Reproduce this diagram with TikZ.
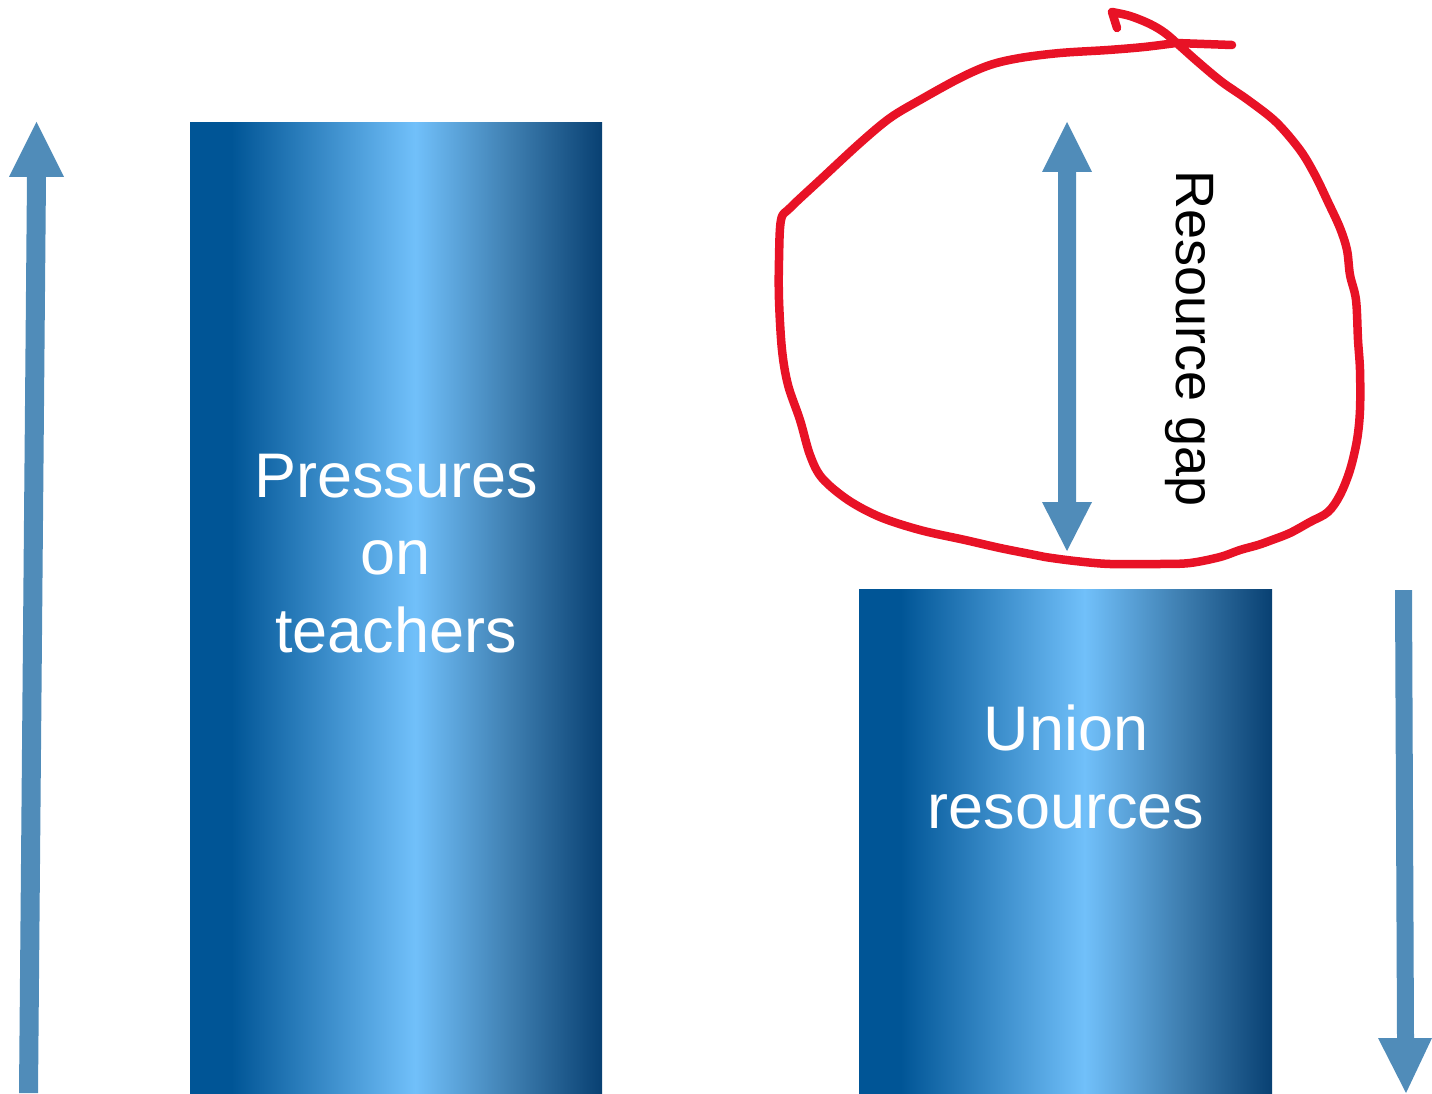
\documentclass[tikz,border=0pt]{standalone}
\usepackage{fontspec}
\setmainfont{Liberation Sans}
\definecolor{bc1}{RGB}{0,85,150}
\definecolor{bc2}{RGB}{113,192,250}
\definecolor{bc3}{RGB}{62,126,176}
\definecolor{bc4}{RGB}{8,64,114}
\definecolor{arrowblue}{RGB}{80,140,185}
\definecolor{markred}{RGB}{232,18,38}
\pgfdeclarehorizontalshading{barshade}{100bp}{color(0bp)=(bc1); color(25bp)=(bc1); color(30bp)=(bc1); color(52.3bp)=(bc2); color(64bp)=(bc3); color(75bp)=(bc4); color(100bp)=(bc4)}
\tikzset{
  barbox/.style={shading=barshade, draw=none, inner sep=0pt, anchor=north west},
  bartext/.style={text=white, align=center, inner sep=0pt, anchor=base, font=\fontsize{63}{77.5}\selectfont},
  blockarrow/.style={fill=arrowblue, draw=none},
  redmark/.style={draw=markred, line width=8.5pt, line cap=round, line join=round}
}
\begin{document}
\begin{tikzpicture}[x=1pt,y=-1pt]
\useasboundingbox (0,0) rectangle (1432,1094);
% bars
\node[barbox, minimum width=412pt, minimum height=972pt] (pbar) at (190,122) {};
\node[barbox, minimum width=413pt, minimum height=505pt] (ubar) at (859,589) {};
\node[bartext] (ptext) at (396,652) {Pressures\\on\\teachers};
\node[bartext] (utext) at (1066,828) {Union\\resources};
% left up arrow
\fill[blockarrow] (19,1093) -- (38,1093) -- (46,177) -- (64,177) -- (36.5,122) -- (9,177) -- (27,177) -- cycle;
% right down arrow
\fill[blockarrow] (1395,590) -- (1412,590) -- (1414,1038) -- (1432,1038) -- (1406,1093) -- (1378,1038) -- (1397,1038) -- cycle;
% double arrow
\fill[blockarrow] (1067,122) -- (1092,172) -- (1076,172) -- (1076,502) -- (1092,502) -- (1067,551) -- (1042,502) -- (1058,502) -- (1058,172) -- (1042,172) -- cycle;
% label
\node[rotate=-90, anchor=base west, inner sep=0pt, font=\fontsize{54}{60}\selectfont] (gap) at (1176,170) {Resource gap};
% red hand-drawn circle
\draw[redmark] (1117,28) -- (1112,12)
  plot[smooth, tension=0.55] coordinates {(1112,12) (1130,16) (1150,24) (1165,33) (1180,46) (1198,62) (1222,82) (1248,100) (1276,122) (1300,150) (1315,175) (1328,202) (1340,228) (1347,250) (1350,275) (1356,300) (1358,340) (1360,370) (1360,410) (1357,440) (1350,470) (1340,495) (1328,512) (1310,522) (1290,533) (1272,540) (1258,545) (1240,550) (1220,557) (1190,563) (1160,564) (1110,564) (1075,561) (1045,557) (1030,554) (1000,548) (965,540) (920,530) (880,517) (848,500) (822,478) (810,455) (800,420) (788,385) (782,350) (779,300) (779,260) (781,220) (790,208) (820,180) (860,143) (890,118) (920,100) (960,78) (990,65) (1020,58) (1060,53) (1108,50) (1144,47) (1176,43)}
  -- (1232,45);
\end{tikzpicture}
\end{document}
